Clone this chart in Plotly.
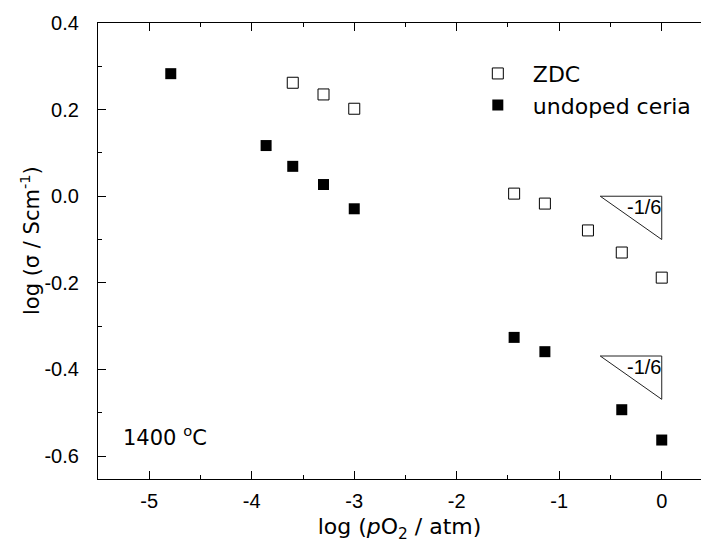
import plotly.graph_objects as go

# log(pO2 / atm) and log(sigma / S cm^-1) at 1400 C
zdc_x = [-3.6, -3.3, -3.0, -1.44, -1.14, -0.72, -0.39, 0.0]
zdc_y = [0.262, 0.235, 0.202, 0.006, -0.017, -0.079, -0.130, -0.188]

ceria_x = [-4.79, -3.86, -3.6, -3.3, -3.0, -1.44, -1.14, -0.39, 0.0]
ceria_y = [0.283, 0.117, 0.069, 0.027, -0.029, -0.326, -0.359, -0.493, -0.563]

x_ticks = [-5, -4, -3, -2, -1, 0]
x_tick_text = ["-5", "-4", "-3", "-2", "-1", "0"]
y_ticks = [-0.6, -0.4, -0.2, 0.0, 0.2, 0.4]
y_tick_text = ["-0.6", "-0.4", "-0.2", "0.0", "0.2", "0.4"]

# slope guides: run of 0.6 decades ending at log pO2 = 0, top edge levels
slope = -1 / 6
guide_run = 0.6
guide_tops = [0.0, -0.369]

X_RANGE = [-5.5, 0.383]
Y_RANGE = [-0.653, 0.4]

TICK_FONT = "Liberation Sans, Arial, sans-serif"
TEXT_FONT = "DejaVu Sans, Liberation Sans, Arial, sans-serif"

fig = go.Figure()
fig.add_trace(go.Scatter(
    x=zdc_x, y=zdc_y, mode="markers", name="ZDC",
    marker=dict(symbol="square-open", size=11, color="black",
                line=dict(width=1, color="black")),
))
fig.add_trace(go.Scatter(
    x=ceria_x, y=ceria_y, mode="markers", name="undoped ceria",
    marker=dict(symbol="square", size=11, color="black",
                line=dict(width=0)),
))

for top in guide_tops:
    x0, x1 = -guide_run, 0.0
    bottom = top + slope * guide_run
    fig.add_shape(
        type="path",
        path=f"M {x0} {top} L {x1} {top} L {x1} {bottom} Z",
        xref="x", yref="y",
        line=dict(color="#222", width=1),
    )
    fig.add_annotation(
        x=x1, y=top - 0.025, xref="x", yref="y",
        text="-1/6", showarrow=False, xanchor="right", yanchor="middle",
        font=dict(family=TICK_FONT, size=20, color="black"),
        borderpad=0,
    )

fig.add_annotation(
    x=-5.28, y=-0.553, xref="x", yref="y",
    text="1400 <sup>o</sup>C", showarrow=False,
    xanchor="left", yanchor="middle",
    font=dict(family=TEXT_FONT, size=21, color="black"),
)

# y-axis title, set slightly above the axis centre
fig.add_annotation(
    x=-0.1128, y=0.524, xref="paper", yref="paper",
    text="log (σ / Scm<sup>-1</sup>)", showarrow=False, textangle=-90,
    xanchor="center", yanchor="middle",
    font=dict(family=TEXT_FONT, size=21, color="black"),
)

axis_common = dict(
    showline=True, linecolor="black", linewidth=1.2,
    ticks="inside", tickcolor="black", tickwidth=1.2, ticklen=8,
    showgrid=False, zeroline=False,
    tickfont=dict(family=TICK_FONT, size=20, color="black"),
)

fig.update_layout(
    xaxis=dict(
        **axis_common,
        range=X_RANGE,
        tickmode="array", tickvals=x_ticks, ticktext=x_tick_text,
        mirror="ticks",  # top frame edge with inward ticks
        minor=dict(ticks="inside", ticklen=4, tickcolor="black", tickwidth=1.2,
                   dtick=0.5, tick0=0, showgrid=False),
        title=dict(text="log (<i>p</i>O<sub>2</sub> / atm)",
                   font=dict(family=TEXT_FONT, size=22, color="black"),
                   standoff=7),
        ticklabelstandoff=4,
    ),
    yaxis=dict(
        **axis_common,
        range=Y_RANGE,
        tickmode="array", tickvals=y_ticks, ticktext=y_tick_text,
        mirror=False,
        minor=dict(ticks="inside", ticklen=4, tickcolor="black", tickwidth=1.2,
                   dtick=0.1, tick0=0, showgrid=False),
        ticklabelstandoff=14,
    ),
    width=701, height=546,
    margin=dict(l=98, r=0, t=23, b=67, pad=0),
    paper_bgcolor="white", plot_bgcolor="white",
    font=dict(family=TEXT_FONT, size=20, color="black"),
    showlegend=True,
    legend=dict(
        x=0.605, y=0.935, xanchor="left", yanchor="top",
        bgcolor="rgba(0,0,0,0)", borderwidth=0,
        font=dict(family=TEXT_FONT, size=22, color="black"),
        itemwidth=60,
    ),
)

fig.write_html("out.html")
